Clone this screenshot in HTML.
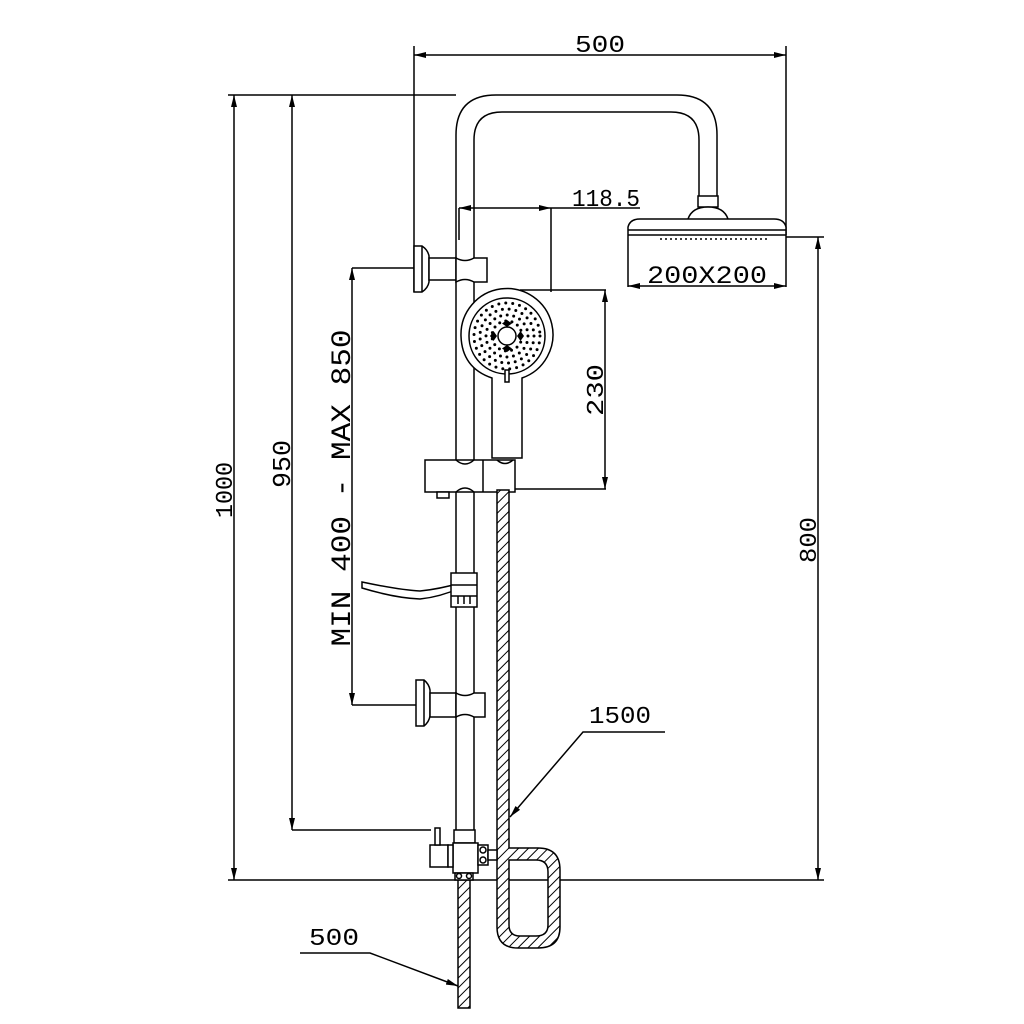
<!DOCTYPE html>
<html><head><meta charset="utf-8"><style>html,body{margin:0;padding:0;background:#fff}svg{display:block}</style></head>
<body>
<svg width="1024" height="1024" viewBox="0 0 1024 1024" xmlns="http://www.w3.org/2000/svg" font-family="Liberation Mono, monospace" fill="none" stroke="#000" stroke-width="1.5">
<defs>
<pattern id="h" patternUnits="userSpaceOnUse" width="7" height="7" patternTransform="rotate(45)">
<rect width="7" height="7" fill="#fff" stroke="none"/><line x1="0" y1="0" x2="0" y2="7" stroke="#000" stroke-width="2"/>
</pattern>
<marker id="a" viewBox="0 0 12 6" refX="12" refY="3" markerWidth="12" markerHeight="6" markerUnits="userSpaceOnUse" orient="auto-start-reverse"><path d="M0 0 L12 3 L0 6 Z" fill="#000" stroke="none"/></marker>
</defs>

<line x1="414" y1="46" x2="414" y2="292"/>
<line x1="786" y1="46" x2="786" y2="287"/>
<line x1="414" y1="55" x2="786" y2="55" marker-start="url(#a)" marker-end="url(#a)"/>
<text x="600" y="52" font-size="24" fill="#000" stroke="none" text-anchor="middle" textLength="50" lengthAdjust="spacingAndGlyphs">500</text>

<line x1="228" y1="95" x2="456" y2="95"/>
<line x1="228" y1="880" x2="824" y2="880"/>
<line x1="234" y1="95" x2="234" y2="880" marker-start="url(#a)" marker-end="url(#a)"/>
<text transform="translate(232,490) rotate(-90)" font-size="24" fill="#000" stroke="none" text-anchor="middle" textLength="56" lengthAdjust="spacingAndGlyphs">1000</text>

<line x1="292" y1="95" x2="292" y2="830" marker-start="url(#a)" marker-end="url(#a)"/>
<line x1="292" y1="830" x2="431" y2="830"/>
<text transform="translate(290,464) rotate(-90)" font-size="26" fill="#000" stroke="none" text-anchor="middle" textLength="48" lengthAdjust="spacingAndGlyphs">950</text>

<line x1="352" y1="268" x2="416" y2="268"/>
<line x1="352" y1="705" x2="416" y2="705"/>
<line x1="352" y1="268" x2="352" y2="705" marker-start="url(#a)" marker-end="url(#a)"/>
<text transform="translate(350,488) rotate(-90)" font-size="28" fill="#000" stroke="none" text-anchor="middle" textLength="317" lengthAdjust="spacingAndGlyphs">MIN 400 - MAX 850</text>

<line x1="786" y1="237" x2="824" y2="237"/>
<line x1="818" y1="237" x2="818" y2="880" marker-start="url(#a)" marker-end="url(#a)"/>
<text transform="translate(816,540) rotate(-90)" font-size="24" fill="#000" stroke="none" text-anchor="middle" textLength="46" lengthAdjust="spacingAndGlyphs">800</text>

<line x1="459" y1="208" x2="551" y2="208" marker-start="url(#a)" marker-end="url(#a)"/>
<line x1="551" y1="208" x2="640" y2="208"/>
<line x1="459" y1="208" x2="459" y2="240"/>
<line x1="551" y1="208" x2="551" y2="292"/>
<text x="606" y="206" font-size="24" fill="#000" stroke="none" text-anchor="middle" textLength="68" lengthAdjust="spacingAndGlyphs">118.5</text>

<line x1="520" y1="290" x2="606" y2="290"/>
<line x1="515" y1="489" x2="606" y2="489"/>
<line x1="605" y1="290" x2="605" y2="489" marker-start="url(#a)" marker-end="url(#a)"/>
<text transform="translate(603,390) rotate(-90)" font-size="24" fill="#000" stroke="none" text-anchor="middle" textLength="52" lengthAdjust="spacingAndGlyphs">230</text>

<polyline points="665,732 583,732 510,817" marker-end="url(#a)"/>
<text x="620" y="723" font-size="24" fill="#000" stroke="none" text-anchor="middle" textLength="62" lengthAdjust="spacingAndGlyphs">1500</text>

<polyline points="300,953 370,953 458,986" marker-end="url(#a)"/>
<text x="334" y="945" font-size="24" fill="#000" stroke="none" text-anchor="middle" textLength="50" lengthAdjust="spacingAndGlyphs">500</text>

<path d="M456 830 V135 Q456 95 496 95 H677 Q717 95 717 135 V196"/>
<path d="M474 830 V140 Q474 112 502 112 H671 Q699 112 699 140 V196"/>
<rect x="698" y="196" width="20" height="11" fill="#fff"/>
<path d="M688 219 Q692 207 708 207 Q724 207 728 219" fill="#fff"/>
<path d="M628 235 V227 Q630 219 640 219 H774 Q784 219 786 227 V235" fill="#fff"/>
<line x1="628" y1="230" x2="786" y2="230"/>
<line x1="628" y1="235" x2="786" y2="235"/>
<line x1="660" y1="239" x2="770" y2="239" stroke-dasharray="2 3"/>
<line x1="628" y1="235" x2="628" y2="287"/>
<line x1="628" y1="286" x2="786" y2="286" marker-start="url(#a)" marker-end="url(#a)"/>
<text x="707" y="283" font-size="25" fill="#000" stroke="none" text-anchor="middle" textLength="120" lengthAdjust="spacingAndGlyphs">200X200</text>

<path d="M414 246 H422 Q428 250 429 256 V282 Q428 288 422 292 H414 Z" fill="#fff"/>
<line x1="422" y1="246" x2="422" y2="292"/>
<rect x="429" y="258" width="27" height="22" fill="#fff"/>
<path d="M456 258 Q465 263 474 258 H487 V282 H474 Q465 277 456 282 Z" fill="#fff"/>

<path d="M492 458 V378 Q462 368 461 336 A46 46 0 1 1 522 378 V458 Z" fill="#fff"/>
<circle cx="507" cy="336" r="38"/>
<circle cx="507" cy="336" r="9"/>
<g stroke-linecap="round" stroke-width="3">
<circle cx="507" cy="336" r="33" stroke-dasharray="0 7"/>
<circle cx="507" cy="336" r="27" stroke-dasharray="0 6.8"/>
<circle cx="507" cy="336" r="21" stroke-dasharray="0 6.6"/>
<circle cx="507" cy="336" r="15" stroke-dasharray="0 6.3"/>
</g>
<g fill="#000" stroke="none">
<path d="M507 320 l5 3.5 -5 3.5 -5 -3.5z"/><path d="M507 345 l5 3.5 -5 3.5 -5 -3.5z"/>
<path d="M490 336 l3.5 -5 3.5 5 -3.5 5z"/><path d="M517 336 l3.5 -5 3.5 5 -3.5 5z"/>
</g>
<rect x="505" y="370" width="4" height="12" fill="#fff"/>

<rect x="425" y="460" width="90" height="32" fill="#fff"/>
<line x1="483" y1="460" x2="483" y2="492"/>
<path d="M456 460 Q465 468 474 460 M456 492 Q465 484 474 492"/>
<path d="M497 460 Q505 467 513 460"/>
<rect x="437" y="492" width="12" height="6" fill="#fff"/>

<path d="M362 582 Q400 590 420 591 Q440 589 460 583 L460 588 Q440 597 420 599 Q395 598 362 588 Z" fill="#fff"/>
<rect x="451" y="573" width="26" height="34" fill="#fff"/>
<line x1="451" y1="585" x2="477" y2="585"/>
<line x1="451" y1="596" x2="477" y2="596"/>
<path d="M458 596 V604 M464 596 V604 M470 596 V604"/>

<path d="M416 680 H424 Q429 684 430 690 V716 Q429 722 424 726 H416 Z" fill="#fff"/>
<line x1="424" y1="680" x2="424" y2="726"/>
<rect x="430" y="693" width="26" height="24" fill="#fff"/>
<path d="M456 693 Q465 698 474 693 H485 V717 H474 Q465 712 456 717 Z" fill="#fff"/>

<path d="M497 490 H509 V848 H538 Q560 848 560 870 V927 Q560 948 538 948 H518 Q497 948 497 927 Z M509 860 V925 Q509 936 520 936 H536 Q548 936 548 925 V872 Q548 860 536 860 Z" fill="url(#h)" fill-rule="evenodd"/>
<rect x="458" y="880" width="12" height="128" fill="url(#h)"/>

<rect x="454" y="830" width="21" height="13" fill="#fff"/>
<rect x="453" y="843" width="25" height="30" fill="#fff"/>
<rect x="430" y="845" width="18" height="22" fill="#fff"/>
<rect x="448" y="845" width="5" height="22" fill="#fff"/>
<rect x="435" y="828" width="5" height="17" fill="#fff"/>
<rect x="478" y="845" width="10" height="20" fill="#fff"/>
<circle cx="483" cy="850" r="3"/><circle cx="483" cy="860" r="3"/>
<rect x="488" y="850" width="9" height="10" fill="#fff"/>
<rect x="455" y="873" width="18" height="7" fill="#fff"/>
<circle cx="459" cy="876" r="2.5"/><circle cx="469" cy="876" r="2.5"/>
</svg>
</body></html>
